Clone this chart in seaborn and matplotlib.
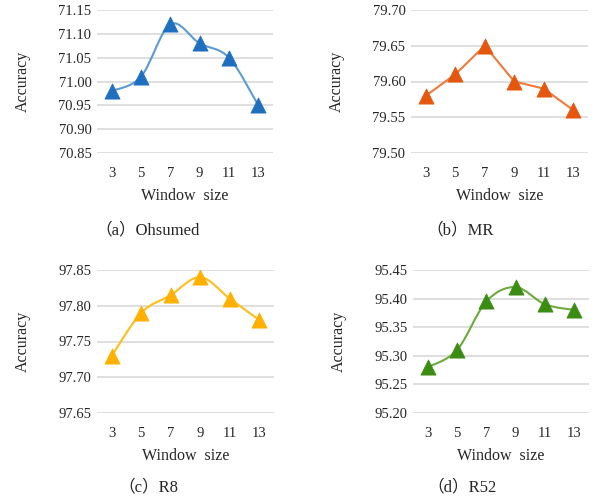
import numpy as np
import pandas as pd
import matplotlib
matplotlib.use("Agg")
import matplotlib.pyplot as plt
from matplotlib.path import Path
from matplotlib.patches import PathPatch
import seaborn as sns

windows = [3, 5, 7, 9, 11, 13]

ohsumed = [70.98, 71.01, 71.12, 71.08, 71.05, 70.95]
mr = [79.58, 79.61, 79.65, 79.60, 79.59, 79.56]
r8 = [97.73, 97.79, 97.815, 97.84, 97.81, 97.78]
r52 = [95.28, 95.31, 95.395, 95.42, 95.39, 95.38]

captions = ["（a）Ohsumed", "（b）MR", "（c）R8", "（d）R52"]

sns.set_style("white")
plt.rcParams["font.family"] = ["Liberation Serif", "Noto Sans CJK SC"]


def smooth_path(xs, ys):
    # excel-like smoothed line: cubic bezier through every point
    pts = np.column_stack([xs, ys]).astype(float)
    n = len(pts)
    verts = [pts[0]]
    codes = [Path.MOVETO]
    for i in range(n - 1):
        p0 = pts[max(i - 1, 0)]
        p1 = pts[i]
        p2 = pts[i + 1]
        p3 = pts[min(i + 2, n - 1)]
        c1 = p1 + (p2 - p0) / 6
        c2 = p2 - (p3 - p1) / 6
        verts += [c1, c2, p2]
        codes += [Path.CURVE4] * 3
    return Path(verts, codes)


fig = plt.figure(figsize=(5.99, 4.97), dpi=100)
W, H = 599, 497

panels = [
    (ohsumed, (70.85, 71.15), 0.05, "#5B9BD5", "#1F6FBF", True, (97, 10, 176, 143), 148, 230),
    (mr, (79.50, 79.70), 0.05, "#F07A3A", "#E5560E", False, (411, 10, 177, 143), 460, 230),
    (r8, (97.65, 97.85), 0.05, "#FFBE1A", "#FFB000", True, (97, 270, 177, 143), 148, 487),
    (r52, (95.20, 95.45), 0.05, "#6DAA3C", "#3A8C12", True, (413, 270, 176, 143), 462, 487),
]

for (vals, ylim, step, lc, mc, smooth, box, cx, cy), cap in zip(panels, captions):
    x0, y0, w, h = box
    ax = fig.add_axes([x0 / W, 1 - (y0 + h) / H, w / W, h / H])
    pos = np.arange(len(windows))
    df = pd.DataFrame({"pos": pos, "acc": vals})

    if smooth:
        ax.add_patch(PathPatch(smooth_path(pos, vals), fill=False, edgecolor=lc,
                               lw=1.5, zorder=3))
    else:
        sns.lineplot(data=df, x="pos", y="acc", color=lc, lw=1.5, ax=ax, zorder=3)
    sns.scatterplot(data=df, x="pos", y="acc", marker="^", s=120, color=mc,
                    edgecolor=mc, linewidth=0.5, ax=ax, zorder=4)

    ax.set_xlim(-0.5, len(windows) - 0.5)
    ax.set_ylim(*ylim)
    ticks = np.arange(ylim[0], ylim[1] + step / 2, step)
    ax.set_yticks(ticks)
    ax.set_yticklabels([f"{t:.2f}" for t in ticks], fontsize=10.5)
    ax.set_xticks(pos)
    ax.set_xticklabels([str(v) for v in windows], fontsize=10.5)
    ax.tick_params(axis="y", length=0, pad=4)
    ax.tick_params(axis="x", length=0, pad=10)
    ax.yaxis.grid(True, color="#D9D9D9", lw=1.2)
    ax.set_axisbelow(True)
    for s in ax.spines.values():
        s.set_visible(False)
    ax.set_xlabel("Window  size", fontsize=11.5, labelpad=6)
    ax.set_ylabel("Accuracy", fontsize=11.5, labelpad=20)
    fig.text(cx / W, 1 - cy / H, cap, ha="center", va="center", fontsize=12)

fig.savefig("out.png", dpi=100)
